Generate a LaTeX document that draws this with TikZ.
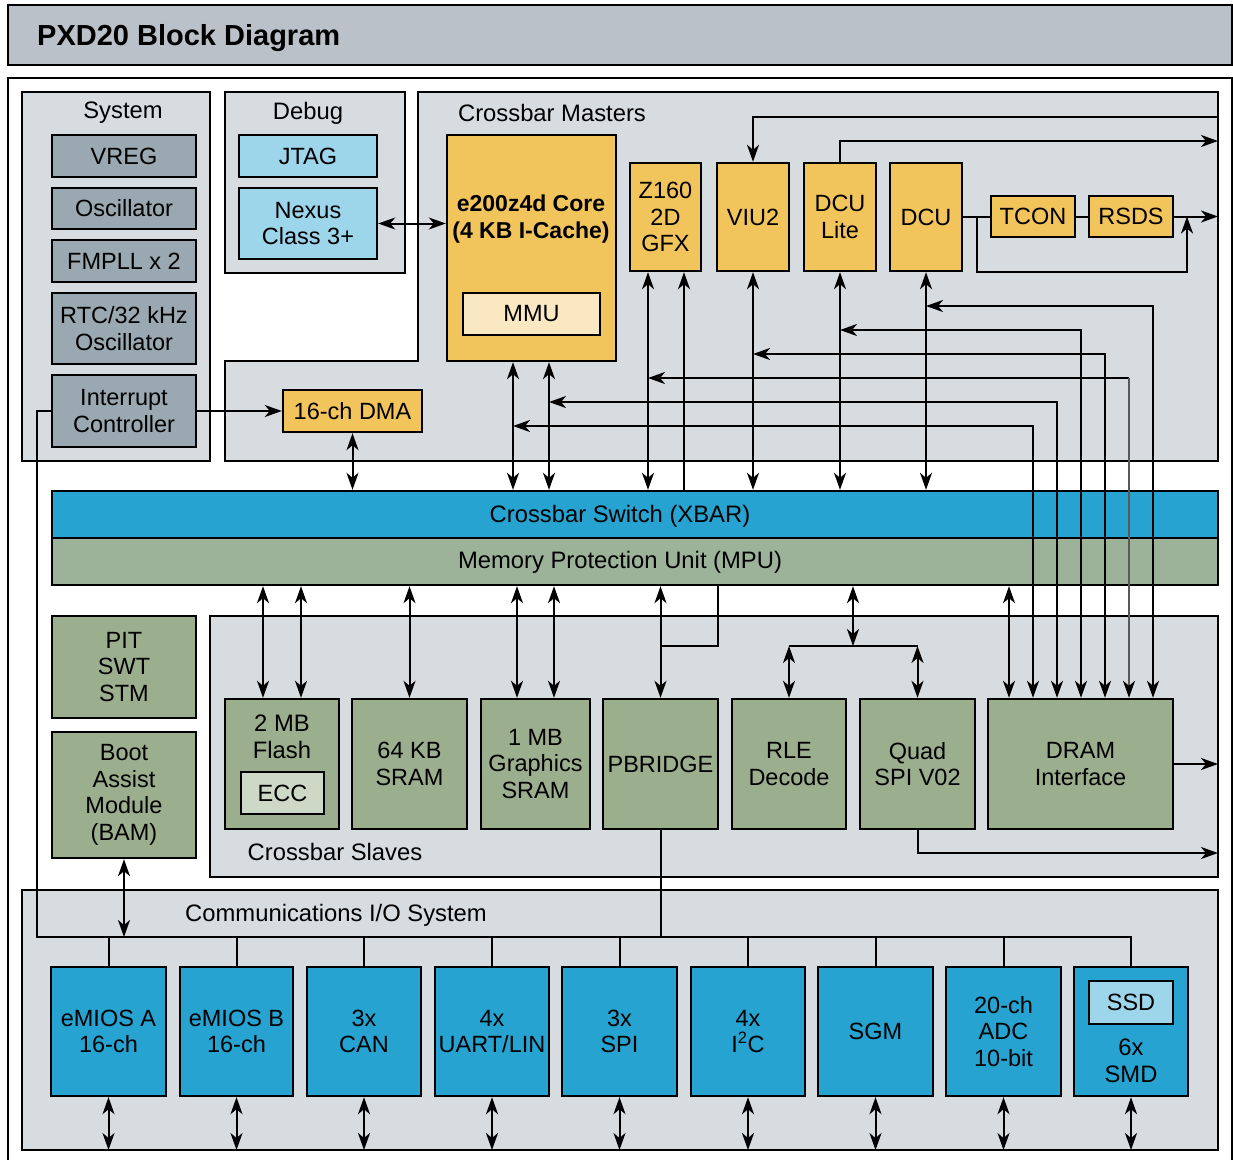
\documentclass[tikz,border=0pt]{standalone}
\usepackage{fontspec}
\setmainfont{Liberation Sans}
\usetikzlibrary{arrows.meta,calc}
\definecolor{titlegray}{HTML}{BAC1C8}
\definecolor{grpgray}{HTML}{D7DCE0}
\definecolor{sysgray}{HTML}{9AA8B1}
\definecolor{dbgcyan}{HTML}{9DD5EB}
\definecolor{mstorange}{HTML}{F2C45C}
\definecolor{mmucream}{HTML}{FAE8C3}
\definecolor{xbarblue}{HTML}{26A3D1}
\definecolor{mpugreen}{HTML}{9CB39A}
\definecolor{slvgreen}{HTML}{9BAE8D}
\definecolor{eccgreen}{HTML}{CDD8C6}
\tikzset{
  blk/.style={draw=black, line width=2.4pt, inner sep=0pt, align=center, font=\fontsize{23.5}{26.5}\selectfont},
  grp/.style={draw=black, line width=2.4pt, fill=grpgray, inner sep=0pt},
  lbl/.style={inner sep=0pt, align=center, font=\fontsize{23.8}{26.5}\selectfont},
  con/.style={line width=2pt, draw=black},
  tipa/.tip={Stealth[length=17pt,width=12pt,inset=5pt,black]},
  arr/.style={con, -tipa},
  darr/.style={con, tipa-tipa},
}
\newcommand{\bx}[7]{\node[blk,#6,minimum width={#4-#2},minimum height={#5-#3}] (#1) at ({(#2+#4)/2},{(#3+#5)/2}) {#7};}
\begin{document}
\begin{tikzpicture}[x=1pt,y=-1pt]
\useasboundingbox (0,0) rectangle (1233,1159);
\clip (0,0) rectangle (1233,1159);
\fill[white] (0,0) rectangle (1233,1159);
% title
\bx{titlebar}{8}{5}{1232}{65}{fill=titlegray}{}
\node[anchor=west, inner sep=0pt, font=\bfseries\fontsize{29}{32}\selectfont] (title) at (37,38) {PXD20 Block Diagram};
% outer frame
\draw[line width=2.4pt] (8,1180) -- (8,78) -- (1232,78) -- (1232,1180);
% groups
\bx{sysgrp}{22}{92}{210}{461}{grp}{}
\bx{dbggrp}{225}{92}{405}{273}{grp}{}
\draw[grp] (418,92) -- (1218,92) -- (1218,461) -- (225,461) -- (225,361) -- (418,361) -- cycle;
\bx{slvgrp}{210}{616}{1218}{877}{grp}{}
\bx{comgrp}{22}{890}{1218}{1150}{grp}{}
\node[lbl] (syslbl) at (123,113) {System};
\node[lbl] (dbglbl) at (308,113) {Debug};
\node[lbl] (mstlbl) at (552,113) {Crossbar Masters};
\node[lbl] (slvlbl) at (335,852) {Crossbar Slaves};
\node[lbl] (comlbl) at (336,915) {Communications I/O System};
% system blocks
\bx{vreg}{52}{135}{196}{177}{fill=sysgray}{VREG}
\bx{osc}{52}{188}{196}{229}{fill=sysgray}{Oscillator}
\bx{fmpll}{52}{240}{196}{282}{fill=sysgray}{FMPLL x 2}
\bx{rtc}{52}{293}{196}{364}{fill=sysgray}{RTC/32 kHz\\Oscillator}
\bx{intc}{52}{375}{196}{447}{fill=sysgray}{Interrupt\\Controller}
% debug
\bx{jtag}{239}{135}{377}{177}{fill=dbgcyan}{JTAG}
\bx{nexus}{239}{188}{377}{259}{fill=dbgcyan}{Nexus\\Class 3+}
% masters
\bx{core}{447}{135}{616}{361}{fill=mstorange}{}
\node[lbl, font=\bfseries\fontsize{23}{26.5}\selectfont] (coretxt) at (531,219) {e200z4d Core\\(4 KB I-Cache)};
\bx{mmu}{463}{293}{600}{335}{fill=mmucream}{MMU}
\bx{z160}{630}{163}{701}{271}{fill=mstorange}{Z160\\2D\\GFX}
\bx{viu}{717}{163}{789}{271}{fill=mstorange}{VIU2}
\bx{dculite}{804}{163}{876}{271}{fill=mstorange}{DCU\\Lite}
\bx{dcu}{890}{163}{962}{271}{fill=mstorange}{DCU}
\bx{tcon}{991}{196}{1075}{237}{fill=mstorange}{TCON}
\bx{rsds}{1089}{196}{1173}{237}{fill=mstorange}{RSDS}
\bx{dma}{283}{390}{422}{432}{fill=mstorange}{16-ch DMA}
% xbar / mpu
\bx{xbar}{52}{491}{1218}{538}{fill=xbarblue}{}
\bx{mpu}{52}{538}{1218}{585}{fill=mpugreen}{}
\node[lbl] (xbartxt) at (620,516) {Crossbar Switch (XBAR)};
\node[lbl] (mputxt) at (620,562) {Memory Protection Unit (MPU)};
% left green
\bx{pit}{52}{616}{196}{718}{fill=slvgreen}{PIT\\SWT\\STM}
\bx{bam}{52}{732}{196}{858}{fill=slvgreen}{Boot\\Assist\\Module\\(BAM)}
% slaves
\bx{flash}{225}{699}{339}{829}{fill=slvgreen}{}
\node[lbl] (flashtxt) at (282,737) {2 MB\\Flash};
\bx{ecc}{241}{772}{324}{814}{fill=eccgreen}{ECC}
\bx{sram}{352}{699}{467}{829}{fill=slvgreen}{64 KB\\SRAM}
\bx{gsram}{481}{699}{590}{829}{fill=slvgreen}{1 MB\\Graphics\\SRAM}
\bx{pbridge}{603}{699}{718}{829}{fill=slvgreen}{PBRIDGE}
\bx{rle}{732}{699}{846}{829}{fill=slvgreen}{RLE\\Decode}
\bx{qspi}{860}{699}{975}{829}{fill=slvgreen}{Quad\\SPI V02}
\bx{dram}{988}{699}{1173}{829}{fill=slvgreen}{DRAM\\Interface}
% comm
\bx{emiosa}{51}{967}{166}{1096}{fill=xbarblue}{eMIOS A\\16-ch}
\bx{emiosb}{180}{967}{293}{1096}{fill=xbarblue}{eMIOS B\\16-ch}
\bx{can}{307}{967}{421}{1096}{fill=xbarblue}{3x\\CAN}
\bx{uart}{435}{967}{549}{1096}{fill=xbarblue}{4x\\UART/LIN}
\bx{spi}{562}{967}{677}{1096}{fill=xbarblue}{3x\\SPI}
\bx{iic}{691}{967}{805}{1096}{fill=xbarblue}{4x\\I\textsuperscript{2}C}
\bx{sgm}{818}{967}{933}{1096}{fill=xbarblue}{SGM}
\bx{adc}{946}{967}{1061}{1096}{fill=xbarblue}{20-ch\\ADC\\10-bit}
\bx{smd}{1074}{967}{1188}{1096}{fill=xbarblue}{}
\bx{ssd}{1089}{981}{1173}{1024}{fill=dbgcyan}{SSD}
\node[lbl] (smdtxt) at (1131,1061) {6x\\SMD};
% coordinates
\coordinate (cx1) at (513,0);
\coordinate (cx2) at (549,0);
\coordinate (gx1) at (648,0);
\coordinate (gx2) at (684,0);
\coordinate (mright) at (1218,0);
\coordinate (vy) at (0,117);
\coordinate (dly) at (0,141);
\coordinate (fbx) at (977,0);
\coordinate (fbtx) at (1187,0);
\coordinate (h1) at (0,426); \coordinate (r1) at (1033,0);
\coordinate (h2) at (0,402); \coordinate (r2) at (1057,0);
\coordinate (h3) at (0,378); \coordinate (r3) at (1129,0);
\coordinate (h4) at (0,354); \coordinate (r4) at (1105,0);
\coordinate (h5) at (0,330); \coordinate (r5) at (1081,0);
\coordinate (h6) at (0,306); \coordinate (r6) at (1153,0);
\coordinate (r0) at (1009,0);
\coordinate (sx1) at (263,0);
\coordinate (sx2) at (301,0);
\coordinate (gs1) at (517,0);
\coordinate (gs2) at (554,0);
\coordinate (px2) at (718,0);
\coordinate (qx) at (853,0);
\coordinate (sp) at (0,646);
\coordinate (qy) at (0,853);
\coordinate (bx) at (37,0);
\coordinate (bus) at (0,937);
\coordinate (cb) at (0,1150);
% master connectors
\draw[darr] (nexus.east) -- (nexus.east -| core.west);
\draw[arr] (intc.east) -- (dma.west);
\draw[darr] (dma.south) -- (dma.south |- xbar.north);
\draw[darr] (core.south -| cx1) -- (xbar.north -| cx1);
\draw[darr] (core.south -| cx2) -- (xbar.north -| cx2);
\draw[darr] (z160.south -| gx1) -- (xbar.north -| gx1);
\draw[arr] (xbar.north -| gx2) -- (z160.south -| gx2);
\draw[darr] (viu.south) -- (viu.south |- xbar.north);
\draw[darr] (dculite.south) -- (dculite.south |- xbar.north);
\draw[darr] (dcu.south) -- (dcu.south |- xbar.north);
\draw[arr] (mright |- vy) -- (vy -| viu.north) -- (viu.north);
\draw[arr] (dculite.north) -- (dculite.north |- dly) -- (dly -| mright);
\draw[con] (dcu.east) -- (dcu.east -| tcon.west);
\draw[con] (tcon.east) -- (rsds.west);
\draw[arr] (rsds.east) -- (rsds.east -| mright);
\draw[arr] (fbx |- dcu.east) -- (fbx |- dcu.south) -- (fbtx |- dcu.south) -- (fbtx |- rsds.east);
% DRAM direct paths
\draw[darr] (cx1 |- h1) -- (h1 -| r1) -- (dram.north -| r1);
\draw[darr] (cx2 |- h2) -- (h2 -| r2) -- (dram.north -| r2);
\draw[con, tipa-] (gx1 |- h3) -- (h3 -| r3);
\draw[line width=1.5pt, draw=black!65, -tipa] (h3 -| r3) -- (dram.north -| r3);
\draw[darr] (viu.south |- h4) -- (h4 -| r4) -- (dram.north -| r4);
\draw[darr] (dculite.south |- h5) -- (h5 -| r5) -- (dram.north -| r5);
\draw[darr] (dcu.south |- h6) -- (h6 -| r6) -- (dram.north -| r6);
\draw[darr] (mpu.south -| r0) -- (dram.north -| r0);
\draw[arr] (dram.east) -- (dram.east -| mright);
% slave connectors
\draw[darr] (mpu.south -| sx1) -- (flash.north -| sx1);
\draw[darr] (mpu.south -| sx2) -- (flash.north -| sx2);
\draw[darr] (mpu.south -| sram.north) -- (sram.north);
\draw[darr] (mpu.south -| gs1) -- (gsram.north -| gs1);
\draw[darr] (mpu.south -| gs2) -- (gsram.north -| gs2);
\draw[darr] (mpu.south -| pbridge.north) -- (pbridge.north);
\draw[con] (mpu.south -| px2) -- (px2 |- sp) -- (sp -| pbridge.north);
\draw[darr] (mpu.south -| qx) -- (qx |- sp);
\draw[con] (sp -| rle.north) -- (sp -| qspi.north);
\draw[darr] (sp -| rle.north) -- (rle.north);
\draw[darr] (sp -| qspi.north) -- (qspi.north);
\draw[arr] (qspi.south) -- (qspi.south |- qy) -- (qy -| mright);
% comm bus
\draw[con] (intc.west) -- (intc.west -| bx) -- (bx |- bus) -- (bus -| smd.north) -- (smd.north);
\draw[con] (pbridge.south) -- (pbridge.south |- bus);
\draw[darr] (bam.south) -- (bam.south |- bus);
\foreach \n in {emiosa,emiosb,can,uart,spi,iic,sgm,adc} {
  \draw[con] (bus -| \n.north) -- (\n.north);
}
\foreach \n in {emiosa,emiosb,can,uart,spi,iic,sgm,adc,smd} {
  \draw[darr] (\n.south) -- (\n.south |- cb);
}
\end{tikzpicture}
\end{document}
